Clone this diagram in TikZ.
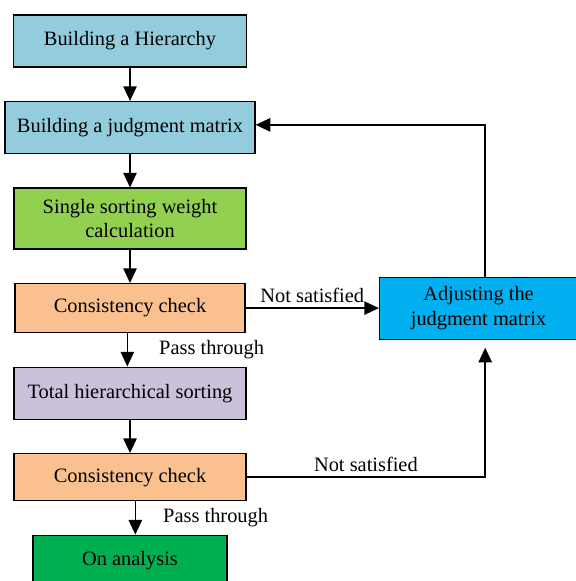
\documentclass[tikz,border=0pt]{standalone}
\usepackage{fontspec}
\setmainfont{Liberation Serif}
\usepackage{xcolor}
\usetikzlibrary{positioning, arrows.meta}
\definecolor{hierblue}{HTML}{93CDDD}
\definecolor{weightgreen}{HTML}{92D050}
\definecolor{checkpeach}{HTML}{FAC090}
\definecolor{totalpurple}{HTML}{CCC1DA}
\definecolor{resultgreen}{HTML}{00B050}
\definecolor{adjustcyan}{HTML}{00B0F0}
\tikzstyle{process} = [rectangle, minimum height=39pt, text centered, align=center, draw=black, line width=0.9pt, font=\fontsize{15.3}{18.6}\selectfont]
\tikzstyle{note} = [font=\fontsize{15.3}{18.6}\selectfont]
\tikzstyle{arrow} = [line width=1.2pt, -{Triangle[length=11pt,width=10pt]}]

\begin{document}
\begin{tikzpicture}[x=0.75pt, y=-0.75pt, node distance=25pt]
\useasboundingbox (0,0) rectangle (575,581);
\node (hier) [process, fill=hierblue, minimum width=174.75pt] at (130,41) {Building a Hierarchy};
\node (judge) [process, fill=hierblue, minimum width=187.5pt, below=of hier] {Building a judgment matrix};
\node (single) [process, fill=weightgreen, minimum width=174pt, minimum height=45.75pt, below=of judge] {Single sorting weight\\calculation};
\node (check1) [process, fill=checkpeach, minimum width=172.5pt, minimum height=36.75pt, below=of single] {Consistency check};
\node (total) [process, fill=totalpurple, minimum width=174pt, below=of check1] {Total hierarchical sorting};
\node (check2) [process, fill=checkpeach, minimum width=174pt, minimum height=35.25pt, below=of total] {Consistency check};
\node (result) [process, fill=resultgreen, minimum width=145.5pt, minimum height=37.5pt, below=of check2] {On analysis};
\node (adjust) [process, fill=adjustcyan, minimum width=148.5pt, minimum height=46.5pt, right=100pt of check1] {Adjusting the\\judgment matrix};

\draw [arrow] (hier) -- (judge);
\draw [arrow] (judge) -- (single);
\draw [arrow] (single) -- (check1);
\draw [arrow] ([xshift=-2pt]check1.south) -- node[note, right=20pt] {Pass through} ([xshift=-2pt]check1.south |- total.north);
\draw [arrow] (total) -- (check2);
\draw [arrow] ([xshift=4pt]check2.south) -- node[note, right=17pt] {Pass through} ([xshift=4pt]check2.south |- result.north);

\draw [arrow] (check1.east) -- node[note, above] {Not satisfied} (adjust.west);
\draw [arrow, shorten >=6pt] (check2.east) -| node[note, pos=0.25, above] {Not satisfied} ([xshift=5pt]adjust.south);
\draw [arrow] ([xshift=5pt]adjust.north) |- ([yshift=2pt]judge.east);
\end{tikzpicture}
\end{document}
